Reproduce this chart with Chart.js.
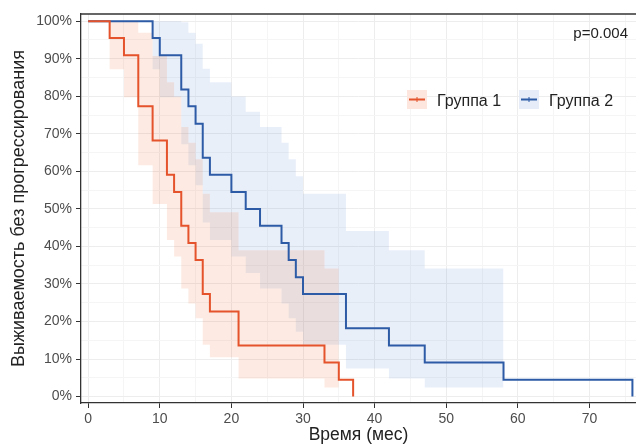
<!DOCTYPE html>
<html>
<head>
<meta charset="utf-8">
<script src="https://cdn.jsdelivr.net/npm/chart.js"></script>
<style>
  body { margin: 0; background: #fff; }
</style>
</head>
<body>
<canvas id="kmChart" width="636" height="445"></canvas>
<script>
// Kaplan-Meier curves, values (months / %)
var groupNames = ['Группа 1', 'Группа 2'];
var pValueText = 'p=0.004';

var g1Times = [0, 3, 5, 7, 9, 11, 12, 13, 14, 15, 16, 17, 21, 33, 35, 37];
var g1Surv  = [100, 95.5, 90.9, 77.3, 68.2, 59.1, 54.5, 45.5, 40.9, 36.4, 27.3, 22.7, 13.6, 9.1, 4.5, 0];

var g1BandTimes = [0, 3, 5, 7, 9, 11, 12, 13, 14, 15, 16, 17, 21, 33, 35];
var g1Upper = [100, 100, 100, 96.9, 90.7, 83.7, 79.9, 71.8, 67.6, 63.2, 54.0, 49.1, 39.0, 34.1, 34.1];
var g1Lower = [100, 87.2, 79.7, 61.6, 51.3, 41.7, 37.3, 28.8, 24.8, 20.9, 13.8, 10.5, 4.8, 2.4, 2.4];

var g2Times = [0, 9, 10, 13, 14, 15, 16, 17, 20, 22, 24, 27, 28, 29, 30, 36, 42, 47, 58, 76];
var g2Surv  = [100, 95.5, 90.9, 81.8, 77.3, 72.7, 63.6, 59.1, 54.5, 50.0, 45.5, 40.9, 36.4, 31.8, 27.3, 18.2, 13.6, 9.1, 4.5, 0];

var g2BandTimes = [0, 9, 10, 13, 14, 15, 16, 17, 20, 22, 24, 27, 28, 29, 30, 36, 42, 47, 58];
var g2Upper = [100, 100, 100, 99.7, 96.9, 94.0, 87.3, 83.7, 79.9, 75.9, 71.8, 67.6, 63.2, 58.7, 54.0, 44.1, 39.0, 34.1, 34.1];
var g2Lower = [100, 87.2, 79.7, 67.2, 61.6, 56.3, 46.4, 41.7, 37.3, 32.9, 28.8, 24.8, 20.9, 17.3, 13.8, 7.5, 4.8, 2.4, 2.4];

// axis ticks
var xMajor = [0, 10, 20, 30, 40, 50, 60, 70];
var xTickLabels = ['0', '10', '20', '30', '40', '50', '60', '70'];
var xMinor = [5, 15, 25, 35, 45, 55, 65, 75];
var yMajor = [0, 10, 20, 30, 40, 50, 60, 70, 80, 90, 100];
var yTickLabels = ['0%', '10%', '20%', '30%', '40%', '50%', '60%', '70%', '80%', '90%', '100%'];
var yMinor = [5, 15, 25, 35, 45, 55, 65, 75, 85, 95];

var redLine = '#E4532B';
var blueLine = '#2D5BA6';
var redFill = 'rgba(240, 120, 70, 0.15)';
var blueFill = 'rgba(88, 135, 208, 0.13)';

function toPoints(xs, ys) {
    return xs.map(function (x, i) { return { x: x, y: ys[i] }; });
}

function buildTicks(major, minor) {
    return major.concat(minor).sort(function (a, b) { return a - b; })
        .map(function (v) { return { value: v }; });
}

var fontFamily = '"Liberation Sans", Arial, sans-serif';
Chart.defaults.font.family = fontFamily;

// top frame line, p-value and legend inside the panel
var overlay = {
    id: 'overlay',
    afterDraw: function (chart) {
        var ctx = chart.ctx;
        var area = chart.chartArea;
        ctx.save();
        ctx.strokeStyle = '#333';
        ctx.lineWidth = 1.3;
        ctx.beginPath();
        ctx.moveTo(area.left, area.top);
        ctx.lineTo(area.right, area.top);
        ctx.stroke();

        ctx.fillStyle = '#222';
        ctx.font = '15px ' + fontFamily;
        ctx.textAlign = 'right';
        ctx.textBaseline = 'alphabetic';
        ctx.fillText(pValueText, 628, 38);

        var keys = [
            { x: 407, text: 437, fill: 'rgb(252, 230, 221)', line: redLine },
            { x: 519, text: 549, fill: 'rgb(230, 237, 248)', line: blueLine }
        ];
        ctx.font = '16px ' + fontFamily;
        ctx.textAlign = 'left';
        keys.forEach(function (k, i) {
            ctx.fillStyle = k.fill;
            ctx.fillRect(k.x, 90, 20, 19);
            ctx.strokeStyle = k.line;
            ctx.lineWidth = 2;
            ctx.beginPath();
            ctx.moveTo(k.x + 2, 99.5);
            ctx.lineTo(k.x + 18, 99.5);
            ctx.stroke();
            ctx.lineWidth = 1;
            ctx.beginPath();
            ctx.moveTo(k.x + 10, 97);
            ctx.lineTo(k.x + 10, 102);
            ctx.stroke();
            ctx.fillStyle = '#222';
            ctx.fillText(groupNames[i], k.text, 106);
        });
        ctx.restore();
    }
};

// 'before' = horizontal first, then the drop at the event time
var lineStyle = { stepped: 'before', pointRadius: 0, tension: 0, borderWidth: 2 };
var bandStyle = { stepped: 'before', pointRadius: 0, tension: 0, borderWidth: 0 };

new Chart(document.getElementById('kmChart'), {
    type: 'line',
    data: {
        datasets: [
            Object.assign({ label: groupNames[0], data: toPoints(g1Times, g1Surv), borderColor: redLine, fill: false }, lineStyle),
            Object.assign({ label: groupNames[1], data: toPoints(g2Times, g2Surv), borderColor: blueLine, fill: false }, lineStyle),
            Object.assign({ label: 'g1 upper', data: toPoints(g1BandTimes, g1Upper), borderColor: 'transparent', backgroundColor: redFill, fill: 3 }, bandStyle),
            Object.assign({ label: 'g1 lower', data: toPoints(g1BandTimes, g1Lower), borderColor: 'transparent', fill: false }, bandStyle),
            Object.assign({ label: 'g2 upper', data: toPoints(g2BandTimes, g2Upper), borderColor: 'transparent', backgroundColor: blueFill, fill: 5 }, bandStyle),
            Object.assign({ label: 'g2 lower', data: toPoints(g2BandTimes, g2Lower), borderColor: 'transparent', fill: false }, bandStyle)
        ]
    },
    options: {
        responsive: false,
        animation: false,
        devicePixelRatio: 1,
        layout: { padding: { top: 14, right: 0, bottom: 0, left: 0 } },
        plugins: {
            legend: { display: false },
            tooltip: { enabled: false }
        },
        scales: {
            x: {
                type: 'linear',
                min: -1,
                max: 76.5,
                afterBuildTicks: function (scale) { scale.ticks = buildTicks(xMajor, xMinor); },
                afterFit: function (scale) { scale.height = 42; },
                border: { display: true, color: '#333', width: 1.3 },
                grid: {
                    color: function (c) { return c.tick && c.tick.value % 10 === 0 ? '#EDEDED' : '#F5F5F5'; },
                    tickColor: function (c) { return c.tick && c.tick.value % 10 === 0 ? '#333' : 'rgba(0,0,0,0)'; },
                    tickLength: 5,
                    lineWidth: 1
                },
                ticks: {
                    autoSkip: false,
                    maxRotation: 0,
                    padding: 3,
                    color: '#4D4D4D',
                    font: { size: 14 },
                    callback: function (value) {
                        var i = xMajor.indexOf(value);
                        return i >= 0 ? xTickLabels[i] : '';
                    }
                },
                title: {
                    display: true,
                    text: 'Время (мес)',
                    color: '#222',
                    font: { size: 17.5, lineHeight: 1 },
                    padding: { top: 0, bottom: 1 }
                }
            },
            y: {
                type: 'linear',
                min: -1.7,
                max: 101.9,
                afterBuildTicks: function (scale) { scale.ticks = buildTicks(yMajor, yMinor); },
                afterFit: function (scale) { scale.width = 81; },
                border: { display: true, color: '#333', width: 1.3 },
                grid: {
                    color: function (c) { return c.tick && c.tick.value % 10 === 0 ? '#EDEDED' : '#F5F5F5'; },
                    tickColor: function (c) { return c.tick && c.tick.value % 10 === 0 ? '#333' : 'rgba(0,0,0,0)'; },
                    tickLength: 5,
                    lineWidth: 1
                },
                ticks: {
                    autoSkip: false,
                    padding: 4,
                    color: '#4D4D4D',
                    font: { size: 14 },
                    callback: function (value) {
                        var i = yMajor.indexOf(value);
                        return i >= 0 ? yTickLabels[i] : '';
                    }
                },
                title: {
                    display: true,
                    text: 'Выживаемость без прогрессирования',
                    color: '#222',
                    font: { size: 18, lineHeight: 1 },
                    padding: { top: 10, bottom: 0 }
                }
            }
        }
    },
    plugins: [overlay]
});
</script>
</body>
</html>
